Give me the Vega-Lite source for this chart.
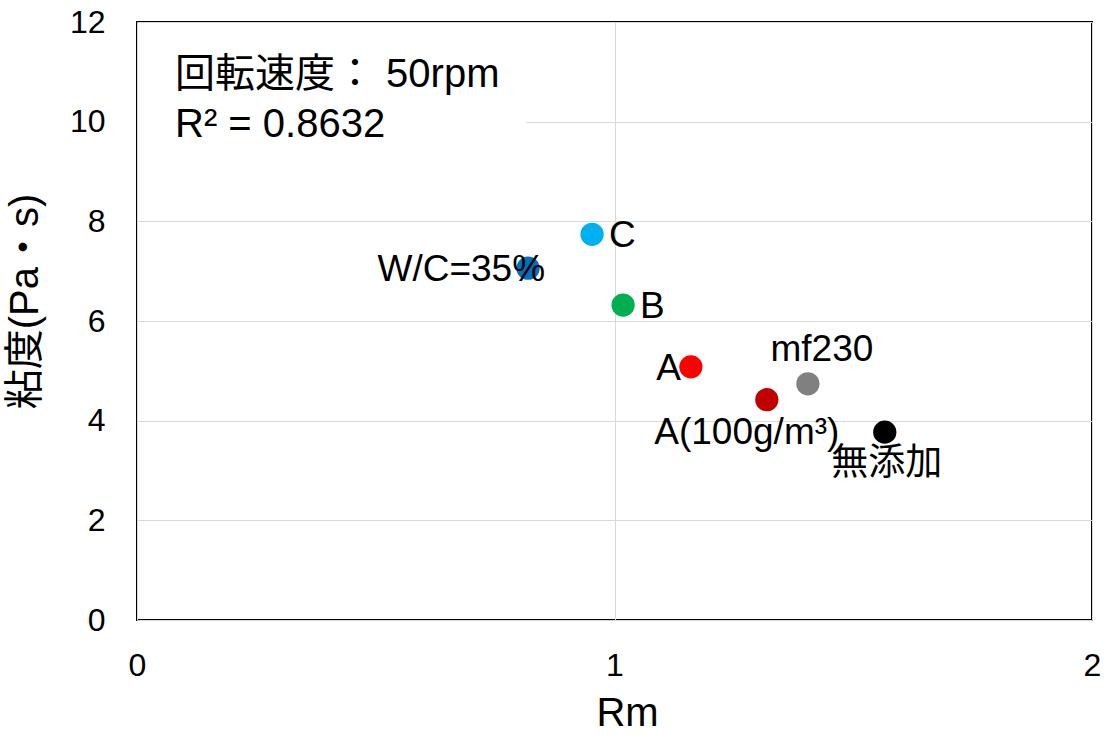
{
  "$schema": "https://vega.github.io/schema/vega-lite/v6.json",
  "width": 955,
  "height": 598,
  "autosize": {"type": "none"},
  "padding": {"left": 137, "top": 22, "right": 18, "bottom": 115},
  "background": "white",
  "config": {
    "font": "Liberation Sans, 'Noto Sans CJK JP', sans-serif",
    "view": {"stroke": "black", "strokeWidth": 2},
    "axis": {
      "domain": false,
      "ticks": false,
      "grid": true,
      "gridColor": "#d9d9d9",
      "gridWidth": 1,
      "labelFontSize": 32,
      "labelColor": "black",
      "labelFlush": false,
      "labelOverlap": false,
      "titleFontSize": 40,
      "titleFontWeight": "normal",
      "titleColor": "black",
      "labelFont": "Liberation Sans, sans-serif",
      "titleFont": "Liberation Sans, 'Noto Sans CJK JP', sans-serif"
    }
  },
  "datasets": {
    "points": [
      {"label": "W/C=35%", "rm": 0.819, "visc": 7.06},
      {"label": "C", "rm": 0.953, "visc": 7.74},
      {"label": "B", "rm": 1.018, "visc": 6.32},
      {"label": "A", "rm": 1.160, "visc": 5.08},
      {"label": "A(100g/m³)", "rm": 1.319, "visc": 4.42},
      {"label": "mf230", "rm": 1.405, "visc": 4.74},
      {"label": "無添加", "rm": 1.566, "visc": 3.77}
    ],
    "note": [
      {"line1": "回転速度： 50rpm", "line2": "R² = 0.8632"}
    ]
  },
  "layer": [
    {
      "data": {"name": "points"},
      "mark": {"type": "point", "filled": true, "opacity": 1, "size": 540},
      "encoding": {
        "x": {
          "field": "rm", "type": "quantitative",
          "scale": {"domain": [0, 2], "nice": false, "zero": false},
          "axis": {"values": [0, 1, 2], "format": "~g", "title": "Rm", "labelPadding": 30, "titlePadding": 12, "titleX": 490}
        },
        "y": {
          "field": "visc", "type": "quantitative",
          "scale": {"domain": [0, 12], "nice": false},
          "axis": {"values": [0, 2, 4, 6, 8, 10, 12], "format": "~g", "title": "粘度(Pa・s)", "labelPadding": 32, "titlePadding": 24, "titleY": 279}
        },
        "color": {
          "field": "label", "type": "nominal", "legend": null,
          "scale": {
            "domain": ["W/C=35%", "C", "B", "A", "A(100g/m³)", "mf230", "無添加"],
            "range": ["#0070C0", "#00B0F0", "#00B050", "#FF0000", "#C00000", "#808080", "#000000"]
          }
        }
      }
    },
    {
      "data": {"name": "note"},
      "mark": {"type": "rect", "fill": "white"},
      "encoding": {
        "x": {"datum": 0.003, "type": "quantitative"},
        "x2": {"datum": 0.815},
        "y": {"datum": 9.3, "type": "quantitative"},
        "y2": {"datum": 11.97}
      }
    },
    {
      "data": {"name": "points"},
      "transform": [{"filter": "datum.label === 'W/C=35%'"}],
      "mark": {"type": "text", "align": "right", "baseline": "middle", "dx": 17, "dy": 2, "fontSize": 37, "color": "black"},
      "encoding": {"x": {"field": "rm", "type": "quantitative"}, "y": {"field": "visc", "type": "quantitative"}, "text": {"field": "label"}}
    },
    {
      "data": {"name": "points"},
      "transform": [{"filter": "datum.label === 'C' || datum.label === 'B'"}],
      "mark": {"type": "text", "align": "left", "baseline": "middle", "dx": 17, "dy": 2, "fontSize": 37, "color": "black"},
      "encoding": {"x": {"field": "rm", "type": "quantitative"}, "y": {"field": "visc", "type": "quantitative"}, "text": {"field": "label"}}
    },
    {
      "data": {"name": "points"},
      "transform": [{"filter": "datum.label === 'A'"}],
      "mark": {"type": "text", "align": "right", "baseline": "middle", "dx": -10, "dy": 2, "fontSize": 37, "color": "black"},
      "encoding": {"x": {"field": "rm", "type": "quantitative"}, "y": {"field": "visc", "type": "quantitative"}, "text": {"field": "label"}}
    },
    {
      "data": {"name": "points"},
      "transform": [{"filter": "datum.label === 'A(100g/m³)'"}],
      "mark": {"type": "text", "align": "center", "baseline": "middle", "dx": -20, "dy": 33, "fontSize": 37, "color": "black"},
      "encoding": {"x": {"field": "rm", "type": "quantitative"}, "y": {"field": "visc", "type": "quantitative"}, "text": {"field": "label"}}
    },
    {
      "data": {"name": "points"},
      "transform": [{"filter": "datum.label === 'mf230'"}],
      "mark": {"type": "text", "align": "center", "baseline": "middle", "dx": 14, "dy": -34, "fontSize": 37, "color": "black"},
      "encoding": {"x": {"field": "rm", "type": "quantitative"}, "y": {"field": "visc", "type": "quantitative"}, "text": {"field": "label"}}
    },
    {
      "data": {"name": "points"},
      "transform": [{"filter": "datum.label === '無添加'"}],
      "mark": {"type": "text", "align": "center", "baseline": "middle", "dx": 2, "dy": 32, "fontSize": 37, "color": "black"},
      "encoding": {"x": {"field": "rm", "type": "quantitative"}, "y": {"field": "visc", "type": "quantitative"}, "text": {"field": "label"}}
    },
    {
      "data": {"name": "note"},
      "mark": {"type": "text", "align": "left", "baseline": "alphabetic", "fontSize": 40, "color": "black"},
      "encoding": {
        "x": {"datum": 0.0796, "type": "quantitative"},
        "y": {"datum": 10.696, "type": "quantitative"},
        "text": {"field": "line1"}
      }
    },
    {
      "data": {"name": "note"},
      "mark": {"type": "text", "align": "left", "baseline": "alphabetic", "fontSize": 40, "color": "black"},
      "encoding": {
        "x": {"datum": 0.0796, "type": "quantitative"},
        "y": {"datum": 9.693, "type": "quantitative"},
        "text": {"field": "line2"}
      }
    }
  ]
}
